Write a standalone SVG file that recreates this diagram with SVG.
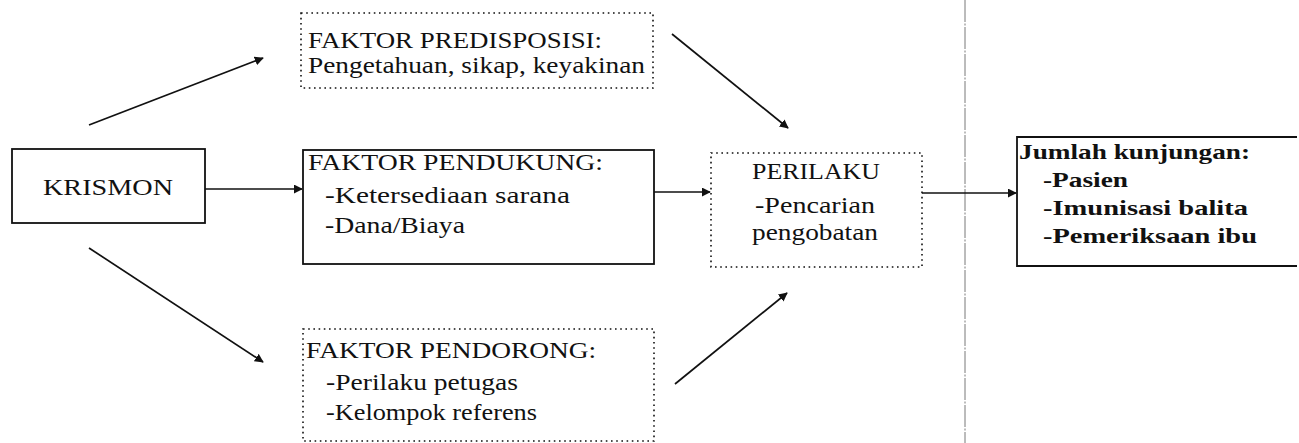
<svg xmlns="http://www.w3.org/2000/svg" width="1299" height="443" viewBox="0 0 1299 443">
<style>
  .t { font-family: 'Liberation Serif', 'DejaVu Serif', serif; font-size: 23px; fill: #111; }
  .b { font-weight: bold; font-size: 22px; }
  .solid { fill: none; stroke: #111; stroke-width: 1.8; }
  .dot { fill: none; stroke: #111; stroke-width: 1.6; stroke-dasharray: 1.6 3.6; }
  .conn { fill: none; stroke: #111; stroke-width: 1.7; }
  .sep { fill: none; stroke: #555; stroke-width: 0.8; stroke-dasharray: 22 1.5 2 1.5; }
</style>
<defs>
  <marker id="ah" viewBox="0 0 10 10" refX="9" refY="5" markerWidth="9" markerHeight="9" markerUnits="userSpaceOnUse" orient="auto">
    <path d="M0,0 L10,5 L0,10 z" fill="#111"/>
  </marker>
</defs>
<rect width="1299" height="443" fill="#fff"/>
<line class="sep" x1="965" y1="0" x2="965" y2="443"/>

<g id="connectors">
  <line class="conn" x1="89" y1="125" x2="263" y2="58" marker-end="url(#ah)"/>
  <line class="conn" x1="205" y1="189" x2="302" y2="189" marker-end="url(#ah)"/>
  <line class="conn" x1="89" y1="248" x2="263" y2="362" marker-end="url(#ah)"/>
  <line class="conn" x1="672" y1="34" x2="788" y2="128" marker-end="url(#ah)"/>
  <line class="conn" x1="654" y1="192" x2="710" y2="192" marker-end="url(#ah)"/>
  <line class="conn" x1="675" y1="384" x2="787" y2="293" marker-end="url(#ah)"/>
  <line class="conn" x1="922" y1="193" x2="1016" y2="193" marker-end="url(#ah)"/>
</g>

<g id="krismon">
  <rect class="solid" x="12" y="149" width="193" height="74"/>
  <text class="t" x="43" y="195" textLength="130" lengthAdjust="spacingAndGlyphs">KRISMON</text>
</g>

<g id="predisposisi">
  <rect class="dot" x="301" y="13" width="352" height="75"/>
  <text class="t" x="308" y="48" textLength="294" lengthAdjust="spacingAndGlyphs">FAKTOR PREDISPOSISI:</text>
  <text class="t" x="308" y="73" textLength="337" lengthAdjust="spacingAndGlyphs">Pengetahuan, sikap, keyakinan</text>
</g>

<g id="pendukung">
  <rect class="solid" x="303" y="150" width="351" height="114"/>
  <text class="t" x="308" y="170" textLength="295" lengthAdjust="spacingAndGlyphs">FAKTOR PENDUKUNG:</text>
  <text class="t" x="325" y="203" textLength="245" lengthAdjust="spacingAndGlyphs">-Ketersediaan sarana</text>
  <text class="t" x="325" y="233" textLength="140" lengthAdjust="spacingAndGlyphs">-Dana/Biaya</text>
</g>

<g id="pendorong">
  <rect class="dot" x="303" y="329" width="351" height="112"/>
  <text class="t" x="306" y="358" textLength="290" lengthAdjust="spacingAndGlyphs">FAKTOR PENDORONG:</text>
  <text class="t" x="326" y="390" textLength="192" lengthAdjust="spacingAndGlyphs">-Perilaku petugas</text>
  <text class="t" x="326" y="420" textLength="211" lengthAdjust="spacingAndGlyphs">-Kelompok referens</text>
</g>

<g id="perilaku">
  <rect class="dot" x="711" y="153" width="211" height="114"/>
  <text class="t" x="752" y="179" textLength="128" lengthAdjust="spacingAndGlyphs">PERILAKU</text>
  <text class="t" x="755" y="213" textLength="120" lengthAdjust="spacingAndGlyphs">-Pencarian</text>
  <text class="t" x="752" y="240" textLength="126" lengthAdjust="spacingAndGlyphs">pengobatan</text>
</g>

<g id="jumlah">
  <path class="solid" d="M1297,137 L1017,137 L1017,266 L1297,266"/>
  <text class="t b" x="1019" y="159" textLength="231" lengthAdjust="spacingAndGlyphs">Jumlah kunjungan:</text>
  <text class="t b" x="1043" y="187" textLength="85" lengthAdjust="spacingAndGlyphs">-Pasien</text>
  <text class="t b" x="1043" y="215" textLength="205" lengthAdjust="spacingAndGlyphs">-Imunisasi balita</text>
  <text class="t b" x="1043" y="243" textLength="214" lengthAdjust="spacingAndGlyphs">-Pemeriksaan ibu</text>
</g>
</svg>
